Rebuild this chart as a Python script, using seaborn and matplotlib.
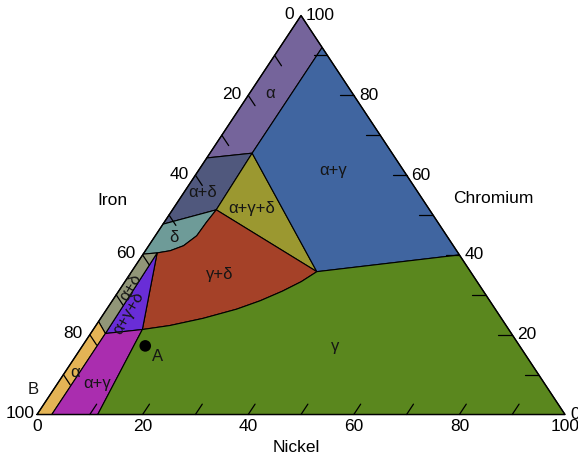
import numpy as np
import matplotlib
matplotlib.use("Agg")
import matplotlib.pyplot as plt
import seaborn as sns

# phase regions, vertices as (Nickel %, Chromium %) -- iron is the balance
alpha_top = [(0, 100), (0, 64.3), (8.0, 65.5), (8.0, 92.0)]
alpha_delta_top = [(0, 64.3), (0, 47.7), (8.3, 51.3), (8.0, 65.5)]
agd_top = [(8.0, 65.5), (8.3, 51.3), (35.1, 35.8)]
alpha_gamma_top = [(8.0, 92.0), (8.0, 65.5), (35.1, 35.8), (60.0, 40.0)]
delta_curve = [(2.5, 40.5), (4.7, 41.05), (6.6, 42.3), (7.85, 44.8), (8.0, 48.2), (8.3, 51.3)]
delta = [(0, 47.7), (0, 40.2)] + delta_curve
gd_curve = [(9.3, 21.3), (14.0, 22.3), (19.4, 24.1), (24.6, 26.4), (28.0, 28.5),
            (31.0, 30.9), (33.4, 33.3), (35.1, 35.8)]
gamma_delta = delta_curve[::-1] + gd_curve
agd_low = [(2.5, 40.5), (2.8, 20.3), (9.3, 21.3)]
alpha_delta_low = [(0, 40.2), (2.5, 40.5), (2.8, 20.3), (0, 23.3)]
alpha_low = [(0, 23.3), (2.8, 20.3), (2.8, 0), (0, 0)]
alpha_gamma_low = [(2.8, 20.3), (9.3, 21.3), (11.5, 0), (2.8, 0)]
gamma = [(11.5, 0), (100, 0), (60.0, 40.0)] + gd_curve[::-1]

regions = [alpha_top, alpha_delta_top, agd_top, alpha_gamma_top, delta, gamma_delta,
           agd_low, alpha_delta_low, alpha_low, alpha_gamma_low, gamma]
region_colors = ["#75649b", "#50587d", "#9b9830", "#4065a0", "#6e9b98", "#a54128",
                 "#692dd7", "#919678", "#e4b455", "#aa2daf", "#5a871e"]

point_a = (11.9, 17.2)
tick_values = [10, 20, 30, 40, 50, 60, 70, 80, 90]
label_values = [0, 20, 40, 60, 80, 100]


def to_xy(ni, cr):
    return ni + cr / 2.0, cr


sns.set_theme(style="white")
plt.rcParams["font.family"] = ["Liberation Sans", "DejaVu Sans"]

fig = plt.figure(figsize=(5.78, 4.6), dpi=100)
ax = fig.add_axes([0, 0, 1, 1])
ax.set_xlim(-7.01, 102.46)
ax.set_ylim(-11.15, 104.14)
ax.axis("off")
PX, PY = 5.28, 3.99  # pixels per data unit

for verts, col in zip(regions, region_colors):
    xy = np.array([to_xy(n, c) for n, c in verts])
    ax.fill(xy[:, 0], xy[:, 1], facecolor=col, edgecolor="black", lw=0.8, zorder=1)

# triangle frame
frame = np.array([to_xy(0, 0), to_xy(100, 0), to_xy(0, 100), to_xy(0, 0)])
ax.plot(frame[:, 0], frame[:, 1], color="black", lw=1.0, zorder=3)

# tick marks
d = 2.6
for v in tick_values:
    x0, y0 = to_xy(v, 0)
    x1, y1 = to_xy(v, d)
    ax.plot([x0, x1], [y0, y1], color="black", lw=0.9, zorder=3)
    x0, y0 = to_xy(0, 100 - v)
    x1, y1 = to_xy(d, 100 - v - d)
    ax.plot([x0, x1], [y0, y1], color="black", lw=0.9, zorder=3)
    x0, y0 = to_xy(100 - v, v)
    x1, y1 = to_xy(100 - v - d, v)
    ax.plot([x0, x1], [y0, y1], color="black", lw=0.9, zorder=3)

fs = 12.5
for v in label_values:
    x, y = to_xy(v, 0)
    ax.text(x, y - 10.5 / PY, str(v), ha="center", va="center", fontsize=fs, color="black")
    # iron on left edge
    x, y = to_xy(0, 100 - v)
    off = -2 if v == 100 else -7
    ax.text(x + off / PX, y + 2 / PY, str(v), ha="right", va="center", fontsize=fs, color="black")
    # chromium on right edge
    x, y = to_xy(100 - v, v)
    ax.text(x + 5 / PX, y + 1 / PY, str(v), ha="left", va="center", fontsize=fs, color="black")

ax.text(14.2, 54.0, "Iron", ha="center", va="center", fontsize=fs, color="black")
ax.text(86.5, 54.5, "Chromium", ha="center", va="center", fontsize=fs, color="black")
ax.text(49.2, -7.9, "Nickel", ha="center", va="center", fontsize=fs, color="black")

lab = dict(ha="center", va="center", fontsize=12, color="#151515", zorder=4)
ax.text(44.1, 80.8, "α", **lab)
ax.text(56.1, 61.5, "α+γ", **lab)
ax.text(31.4, 56.0, "α+δ", **lab)
ax.text(40.7, 51.9, "α+γ+δ", **lab)
ax.text(25.9, 44.5, "δ", **lab)
ax.text(34.6, 35.4, "γ+δ", **lab)
ax.text(56.4, 17.2, "γ", **lab)
ax.text(17.8, 32.2, "α+δ", rotation=60, **lab)
ax.text(17.4, 25.7, "α+γ+δ", rotation=60, **lab)
ax.text(7.2, 10.9, "α", **lab)
ax.text(11.4, 7.9, "α+γ", **lab)

ax_x, ax_y = to_xy(*point_a)
sns.scatterplot(x=[ax_x], y=[ax_y], color="black", s=70, edgecolor="none", ax=ax, legend=False, zorder=5)
ax.text(22.8, 14.8, "A", **lab)
ax.text(-0.7, 6.4, "B", **lab)

fig.savefig("out.png", dpi=100)
